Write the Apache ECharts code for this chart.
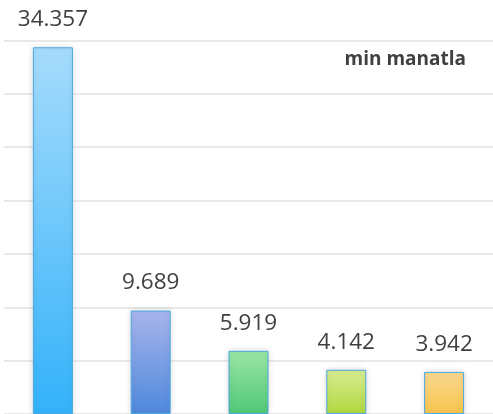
<!DOCTYPE html>
<html>
<head>
<meta charset="utf-8">
<script src="https://cdn.jsdelivr.net/npm/echarts@6/dist/echarts.min.js"></script>
<style>
html,body{margin:0;padding:0;background:#fff;}
#chart{width:493px;height:414px;}
</style>
</head>
<body>
<div id="chart"></div>
<script>
var categories = ['A', 'B', 'C', 'D', 'E'];
var values = [34.357, 9.689, 5.919, 4.142, 3.942];
var labels = ['34.357', '9.689', '5.919', '4.142', '3.942'];
var unitText = 'min manatla';
var topColors = ['#a6dcfc', '#a8b4ec', '#9ae6a4', '#d8ec90', '#f8d890'];
var bottomColors = ['#33b2fa', '#4f88dc', '#50c878', '#b0d840', '#f8c44c'];

var chart = echarts.init(document.getElementById('chart'), null, {renderer: 'canvas'});
var data = values.map(function (v, i) {
  return {
    value: v,
    itemStyle: {
      color: new echarts.graphic.LinearGradient(0, 0, 0, 1, [
        {offset: 0, color: topColors[i]},
        {offset: 1, color: bottomColors[i]}
      ])
    },
    label: {formatter: labels[i]}
  };
});
chart.setOption({
  animation: false,
  grid: {left: 4, right: -1, top: 40.4, bottom: -1.6, containLabel: false},
  xAxis: {
    type: 'category',
    data: categories,
    axisLine: {show: false},
    axisTick: {show: false},
    axisLabel: {show: false}
  },
  yAxis: {
    type: 'value',
    min: 0,
    max: 35,
    interval: 5,
    axisLine: {show: false},
    axisTick: {show: false},
    axisLabel: {show: false},
    splitLine: {lineStyle: {color: '#e2e2e2', width: 1.5}}
  },
  graphic: [{
    type: 'text',
    right: 27,
    top: 50,
    style: {
      text: unitText,
      font: 'bold 19px "Open Sans"',
      fill: '#404040'
    }
  }],
  series: [{
    type: 'bar',
    data: data,
    barWidth: 40,
    itemStyle: {
      borderColor: '#4aa8e0',
      borderWidth: 1,
      shadowColor: 'rgba(0,0,0,0.15)',
      shadowBlur: 6
    },
    label: {
      show: true,
      position: 'top',
      distance: 16,
      fontFamily: 'Open Sans',
      fontSize: 22.5,
      color: '#404040'
    }
  }]
});
</script>
</body>
</html>
